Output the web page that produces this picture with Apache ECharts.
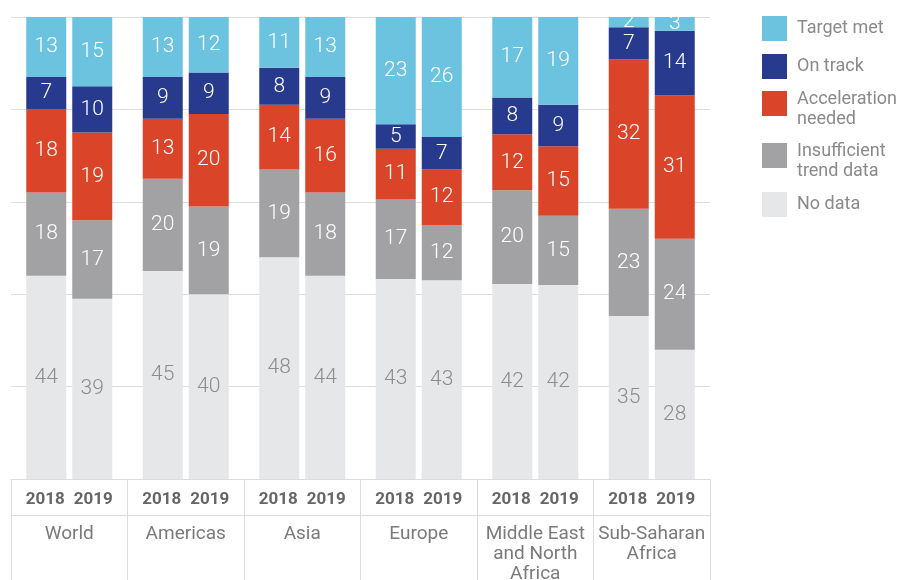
<!DOCTYPE html>
<html>
<head>
<meta charset="utf-8">
<style>
  html, body { margin: 0; padding: 0; background: #fff; }
  #chart { width: 901px; height: 580px; }
</style>
<script src="https://cdn.jsdelivr.net/npm/echarts@6/dist/echarts.min.js"></script>
</head>
<body>
<div id="chart"></div>
<script>
// regions and years
const regions = ["World", "Americas", "Asia", "Europe", "Middle East\nand North\nAfrica", "Sub-Saharan\nAfrica"];
const years = ["2018", "2019"];

// status categories, bottom of the stack first
const statuses = ["No data", "Insufficient\ntrend data", "Acceleration\nneeded", "On track", "Target met"];
const statusColors = ["#e6e7e9", "#a2a2a4", "#da4429", "#283a8e", "#6cc3e0"];

// share of indicators (%) per region, one array per status
const noData2018 = [44, 45, 48, 43.3, 42.2, 35.3];
const noData2019 = [39, 40, 44, 43, 42, 28];
const insufficient2018 = [18, 20, 19, 17.2, 20.3, 23.2];
const insufficient2019 = [17, 19, 18, 12, 15, 24];
const acceleration2018 = [18, 13, 14, 11, 12.1, 32.3];
const acceleration2019 = [19, 20, 16, 12, 15, 31];
const onTrack2018 = [7, 9, 8, 5.3, 8, 7];
const onTrack2019 = [10, 9, 9, 7, 9, 14];
const targetMet2018 = [13, 13, 11, 23.2, 17.4, 2.2];
const targetMet2019 = [15, 12, 13, 26, 19, 3];

const values = {
  "2018": [noData2018, insufficient2018, acceleration2018, onTrack2018, targetMet2018],
  "2019": [noData2019, insufficient2019, acceleration2019, onTrack2019, targetMet2019]
};

const FONT = "Roboto, 'Liberation Sans', sans-serif";
const chart = echarts.init(document.getElementById("chart"));

const series = [];
years.forEach(year => {
  statuses.forEach((status, i) => {
    series.push({
      name: status,
      type: "bar",
      stack: year,
      barWidth: 40,
      barGap: "15%",
      itemStyle: { color: statusColors[i] },
      label: {
        show: true,
        position: "inside",
        color: i === 0 ? "#8c8c8c" : "#ffffff",
        fontSize: 21,
        fontFamily: FONT,
        fontWeight: 300,
        formatter: p => Math.round(p.value)
      },
      emphasis: { disabled: true },
      data: values[year][i]
    });
  });
});

// one legend per status so the squares sit where the reference puts them
const legendTops = { "Target met": 16, "On track": 54, "Acceleration\nneeded": 77.5, "Insufficient\ntrend data": 129.5, "No data": 192 };
const legendText = { color: "#8a8a8a", fontSize: 18, lineHeight: 20, fontFamily: FONT };
const legends = statuses.slice().reverse().map(name => {
  const multi = name.indexOf("\n") >= 0;
  return {
    orient: "vertical",
    left: 762,
    top: legendTops[name],
    padding: 0,
    itemWidth: 25,
    itemHeight: 25,
    icon: "rect",
    selectedMode: false,
    data: [name],
    // two-line names start near the top of their square, as in the reference
    formatter: n => multi ? "{e| }\n" + n.split("\n").map(l => "{a|" + l + "}").join("\n") : n,
    textStyle: Object.assign({}, legendText, {
      padding: [0, 0, 0, 5],
      rich: {
        a: legendText,
        e: { fontSize: 8, lineHeight: 12 }
      }
    })
  };
});

const option = {
  animation: false,
  grid: { left: 11, right: 191, top: 17, bottom: 101, outerBoundsMode: "none" },
  legend: legends,
  xAxis: [
    {
      type: "category",
      data: regions,
      position: "bottom",
      axisLine: { show: true, lineStyle: { color: "#dcdcdc" } },
      axisTick: { show: true, interval: 0, length: 101, lineStyle: { color: "#dcdcdc" } },
      axisLabel: {
        interval: 0,
        margin: 12,
        formatter: () => "{y|" + years[0] + "}{s|}{y|" + years[1] + "}",
        rich: {
          y: { fontSize: 17, fontWeight: "bold", color: "#666", fontFamily: FONT },
          s: { width: 9 }
        }
      }
    },
    {
      type: "category",
      data: regions,
      position: "bottom",
      offset: 36,
      axisLine: { show: true, lineStyle: { color: "#dcdcdc" } },
      axisTick: { show: false },
      axisLabel: {
        interval: 0,
        margin: 9,
        color: "#7a7a7a",
        fontSize: 19,
        lineHeight: 20,
        fontFamily: FONT
      }
    }
  ],
  yAxis: {
    type: "value",
    min: 0,
    max: 100,
    interval: 20,
    axisLabel: { show: false },
    axisLine: { show: false },
    axisTick: { show: false },
    splitLine: { lineStyle: { color: "#dcdcdc", width: 1 } }
  },
  series: series
};

chart.setOption(option);
</script>
</body>
</html>
